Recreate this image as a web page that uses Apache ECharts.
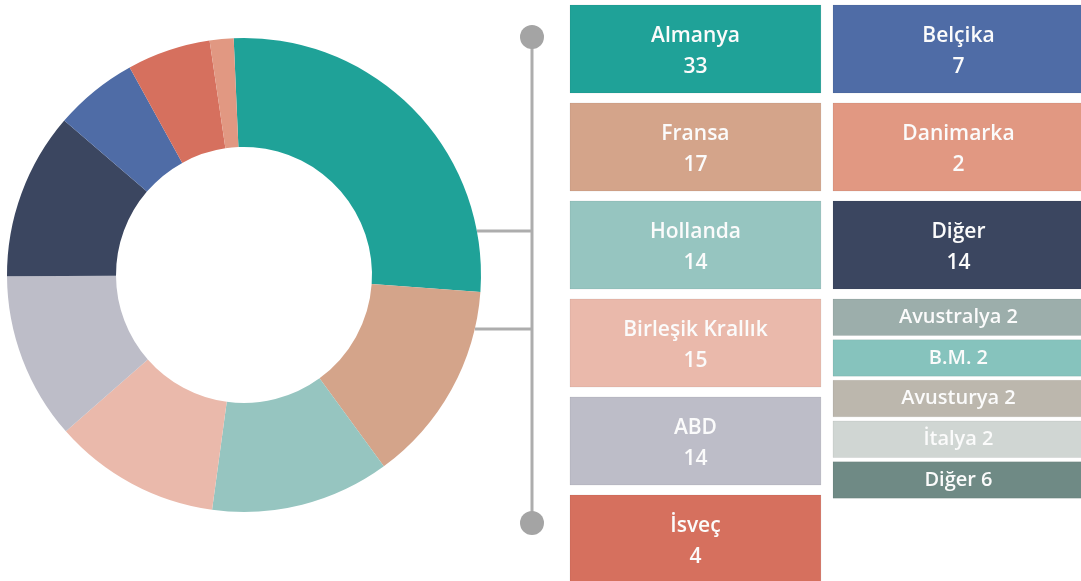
<!DOCTYPE html>
<html>
<head>
<meta charset="utf-8">
<script src="https://cdn.jsdelivr.net/npm/echarts@6/dist/echarts.min.js"></script>
<style>
  html, body { margin: 0; padding: 0; background: #fff; }
  #chart { width: 1081px; height: 581px; }
</style>
</head>
<body>
<div id="chart"></div>
<script>
// ülkeler (halka sırasıyla, saat yönünde)
const countries = ['Almanya', 'Fransa', 'Hollanda', 'Birleşik Krallık', 'ABD', 'Diğer', 'Belçika', 'İsveç', 'Danimarka'];
// kutulardaki sayılar
const counts = [33, 17, 14, 15, 14, 14, 7, 4, 2];
// halkada çizildiği haliyle dilim büyüklükleri (İsveç dilimi etiketinden büyük çizilmiş)
const ringValues = [33, 17, 15, 14, 14, 14, 7, 7, 2];
const colors = ['#1fa298', '#d4a48a', '#96c5c0', '#eab9ab', '#bdbdc8', '#3b4660', '#4f6ca6', '#d6705e', '#e19882'];

// kutu düzeni: sol sütun, sağ sütun
const leftColumn = ['Almanya', 'Fransa', 'Hollanda', 'Birleşik Krallık', 'ABD', 'İsveç'];
const rightColumn = ['Belçika', 'Danimarka', 'Diğer'];

// "Diğer" grubunun ayrıntısı
const otherNames = ['Avustralya', 'B.M.', 'Avusturya', 'İtalya', 'Diğer'];
const otherCounts = [2, 2, 2, 2, 6];
const otherColors = ['#9caeab', '#86c3bd', '#bcb7ad', '#d0d6d3', '#6f8a85'];

const FONT = '"Open Sans"';

let myChart = echarts.init(document.getElementById('chart'));

// kutuların verisi: [sütun, üst, alt] satır biriminde
let boxes = [];
[leftColumn, rightColumn].forEach(function (col, ci) {
  col.forEach(function (name, ri) {
    let i = countries.indexOf(name);
    boxes.push({
      value: [ci, ri, ri + 0.898],
      name: name + '\n' + counts[i],
      itemStyle: { color: colors[i] },
      big: true
    });
  });
});
otherNames.forEach(function (name, k) {
  let y0 = 3 + k * 0.415;
  boxes.push({
    value: [1, y0, y0 + 0.372],
    name: name + ' ' + otherCounts[k],
    itemStyle: { color: otherColors[k] },
    big: false
  });
});

function renderBox(params, api) {
  let col = api.value(0);
  let p0 = api.coord([col, api.value(1)]);
  let p1 = api.coord([col + 0.954, api.value(2)]);
  let item = boxes[params.dataIndex];
  let x = p0[0];
  let w = p1[0] - p0[0];
  let h = p1[1] - p0[1];
  return {
    type: 'group',
    children: [
      {
        type: 'rect',
        shape: { x: x, y: p0[1], width: w, height: h },
        style: { fill: api.visual('color'), stroke: 'rgba(0,0,0,0.06)', lineWidth: 1 }
      },
      {
        type: 'text',
        x: x + w / 2,
        y: p0[1] + h / 2 + (item.big ? 3 : 0),
        style: {
          text: item.name,
          fill: '#fbfbfb',
          font: '600 ' + (item.big ? 21 : 20) + 'px ' + FONT,
          lineHeight: 31,
          align: 'center',
          verticalAlign: 'middle'
        }
      }
    ]
  };
}

let option = {
  backgroundColor: '#ffffff',
  animation: false,
  // sütun aralığı 263 px, satır aralığı 98 px
  grid: { left: 570, top: 5, right: 0, bottom: 0 },
  xAxis: { type: 'value', min: 0, max: 511 / 263, show: false },
  yAxis: { type: 'value', min: 0, max: 576 / 98, inverse: true, show: false },
  graphic: [
    { type: 'line', shape: { x1: 532, y1: 37, x2: 532, y2: 523 }, style: { stroke: '#adadad', lineWidth: 3 } },
    { type: 'line', shape: { x1: 477, y1: 231, x2: 533, y2: 231 }, style: { stroke: '#adadad', lineWidth: 3 } },
    { type: 'line', shape: { x1: 475, y1: 329, x2: 533, y2: 329 }, style: { stroke: '#adadad', lineWidth: 3 } },
    { type: 'circle', shape: { cx: 532, cy: 37, r: 12 }, style: { fill: '#a4a4a4' } },
    { type: 'circle', shape: { cx: 532, cy: 523, r: 12 }, style: { fill: '#a4a4a4' } }
  ],
  series: [
    {
      type: 'pie',
      center: [244, 275],
      radius: [128, 237],
      startAngle: 92.5,
      clockwise: true,
      silent: true,
      label: { show: false },
      labelLine: { show: false },
      emphasis: { disabled: true },
      itemStyle: { borderWidth: 0 },
      data: countries.map(function (n, i) {
        return { name: n, value: ringValues[i], itemStyle: { color: colors[i] } };
      })
    },
    {
      type: 'custom',
      silent: true,
      clip: false,
      renderItem: renderBox,
      data: boxes.map(function (b) {
        return { value: b.value, itemStyle: b.itemStyle };
      })
    }
  ]
};

myChart.setOption(option);
</script>
</body>
</html>
